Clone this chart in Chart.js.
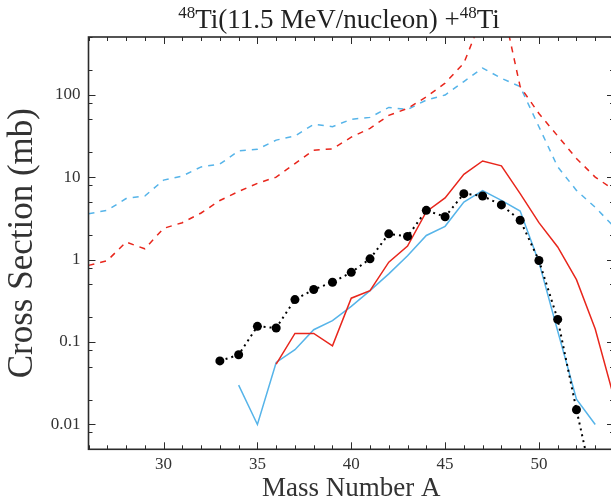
<!DOCTYPE html>
<html>
<head>
<meta charset="utf-8">
<script src="https://cdn.jsdelivr.net/npm/chart.js@4"></script>
<style>
  html, body { margin: 0; padding: 0; background: #fff; overflow: hidden; }
  .box { width: 620px; height: 502px; }
</style>
</head>
<body>
<div class="box"><canvas id="chart"></canvas></div>
<script>
// experiment (black dots)
const massExp = [33, 34, 35, 36, 37, 38, 39, 40, 41, 42, 43, 44, 45, 46, 47, 48, 49, 50, 51, 52, 53]
const sigmaExp = [0.059, 0.070, 0.155, 0.148, 0.327, 0.433, 0.531, 0.70, 1.02, 2.05, 1.91, 3.95, 3.3, 6.3, 5.9, 4.6, 3.0, 0.975, 0.188, 0.0151, 0.0014]

// model, solid red / blue
const massRed = [36, 37, 38, 39, 40, 41, 42, 43, 44, 45, 46, 47, 48, 49, 50, 51, 52, 53, 54]
const sigmaRed = [0.054, 0.127, 0.127, 0.090, 0.34, 0.42, 0.93, 1.46, 3.8, 5.6, 10.8, 15.7, 13.7, 6.3, 2.8, 1.42, 0.57, 0.144, 0.021]
const massBlue = [34, 35, 36, 37, 38, 39, 40, 41, 42, 43, 44, 45, 46, 47, 48, 49, 50, 51, 52, 53]
const sigmaBlue = [0.030, 0.010, 0.0565, 0.0806, 0.141, 0.182, 0.27, 0.42, 0.67, 1.11, 1.96, 2.53, 4.99, 6.87, 5.23, 3.88, 0.93, 0.136, 0.0203, 0.010]

// model, dashed red / blue
const massAll = [26, 27, 28, 29, 30, 31, 32, 33, 34, 35, 36, 37, 38, 39, 40, 41, 42, 43, 44, 45, 46, 47, 48, 49, 50, 51, 52, 53, 54]
const sigmaRedDash = [0.85, 0.97, 1.63, 1.35, 2.39, 2.8, 3.67, 5.2, 6.7, 8.4, 10, 14.6, 21.2, 22, 30.5, 39, 56, 68, 94, 138, 241, 900, 1400, 125, 59, 31.5, 16.8, 10, 7.0]
const sigmaBlueDash = [3.6, 3.95, 5.5, 5.9, 9.2, 10.3, 13.3, 14.4, 20.8, 21.7, 28.1, 31.5, 43.7, 40.9, 50.2, 53, 70, 66, 86, 99, 144, 210, 158, 125, 40.8, 13.3, 6.9, 4.3, 2.5]

const xTicks = [30, 35, 40, 45, 50]
const yTicks = [0.01, 0.1, 1, 10, 100]

const RED = "#e8261c"
const BLUE = "#56b4e9"
const SERIF = "'Liberation Serif', 'DejaVu Serif', serif"

const pts = (xs, ys) => xs.map((m, i) => ({ x: m, y: ys[i] }))

// inward ticks on all four sides + frame
const frame = {
    id: "frame",
    afterDraw(chart) {
        const { ctx, chartArea: a, scales: { x, y } } = chart
        ctx.save()
        ctx.strokeStyle = "#2b2b2b"
        ctx.lineWidth = 1
        ctx.beginPath()
        for (let m = 26; m <= 54; m++) {
            const px = Math.round(x.getPixelForValue(m)) + 0.5
            const len = m % 5 === 0 ? 7 : 4
            ctx.moveTo(px, a.bottom); ctx.lineTo(px, a.bottom - len)
            ctx.moveTo(px, a.top); ctx.lineTo(px, a.top + len)
        }
        for (let e = -3; e <= 2; e++) {
            for (const k of [1, 2, 5, 8]) {
                const v = k * Math.pow(10, e)
                if (v < y.min || v > y.max) continue
                const py = Math.round(y.getPixelForValue(v)) + 0.5
                const len = k === 1 ? 7 : 4
                ctx.moveTo(a.left, py); ctx.lineTo(a.left + len, py)
                ctx.moveTo(a.right, py); ctx.lineTo(a.right - len, py)
            }
        }
        ctx.stroke()
        ctx.lineWidth = 1.6
        ctx.strokeRect(a.left, a.top, a.right - a.left, a.bottom - a.top)

        // title with superscript mass numbers
        const parts = [["48", true], ["Ti(11.5 MeV/nucleon) +", false], ["48", true], ["Ti", false]]
        const big = "27px " + SERIF, small = "17px " + SERIF
        let w = 0
        for (const [t, sup] of parts) { ctx.font = sup ? small : big; w += ctx.measureText(t).width }
        let cx = 339 - w / 2
        ctx.fillStyle = "#222"
        ctx.textBaseline = "alphabetic"
        for (const [t, sup] of parts) {
            ctx.font = sup ? small : big
            ctx.fillText(t, cx, sup ? 18 : 28)
            cx += ctx.measureText(t).width
        }
        ctx.restore()
    }
}

new Chart(document.getElementById("chart"), {
    type: "line",
    data: {
        datasets: [
            {
                data: pts(massExp, sigmaExp),
                borderColor: "#000",
                borderWidth: 2,
                borderDash: [2, 4],
                pointRadius: 4.5,
                pointBackgroundColor: "#000",
                pointBorderWidth: 0
            },
            { data: pts(massRed, sigmaRed), borderColor: RED, borderWidth: 1.5, pointRadius: 0 },
            { data: pts(massBlue, sigmaBlue), borderColor: BLUE, borderWidth: 1.5, pointRadius: 0 },
            { data: pts(massAll, sigmaRedDash), borderColor: RED, borderWidth: 1.5, borderDash: [6, 6], pointRadius: 0 },
            { data: pts(massAll, sigmaBlueDash), borderColor: BLUE, borderWidth: 1.5, borderDash: [6, 6], pointRadius: 0 }
        ]
    },
    options: {
        responsive: true,
        maintainAspectRatio: false,
        animation: false,
        events: [],
        layout: { padding: { top: 37, right: 6, left: 0, bottom: 0 } },
        plugins: { legend: { display: false }, tooltip: { enabled: false } },
        scales: {
            x: {
                type: "linear",
                min: 26,
                max: 54,
                afterBuildTicks: s => { s.ticks = xTicks.map(v => ({ value: v })) },
                afterFit: s => { s.height = 52.7 },
                grid: { display: false, drawTicks: false },
                border: { display: false },
                ticks: { font: { family: SERIF, size: 17 }, color: "#333", padding: 5, maxRotation: 0 },
                title: {
                    display: true,
                    text: "Mass Number A",
                    font: { family: SERIF, size: 27, lineHeight: 1 },
                    color: "#333",
                    padding: { top: 0, bottom: 0 }
                }
            },
            y: {
                type: "logarithmic",
                min: 0.005,
                max: 500,
                afterBuildTicks: s => { s.ticks = yTicks.map(v => ({ value: v })) },
                afterFit: s => { s.width = 88.5 },
                grid: { display: false, drawTicks: false },
                border: { display: false },
                ticks: {
                    font: { family: SERIF, size: 17 },
                    color: "#333",
                    padding: 8,
                    callback: v => String(v)
                },
                title: {
                    display: true,
                    text: "Cross Section (mb)",
                    font: { family: SERIF, size: 35, lineHeight: 1 },
                    color: "#333",
                    padding: { top: 5, bottom: 0 }
                }
            }
        }
    },
    plugins: [frame]
})
</script>
</body>
</html>
